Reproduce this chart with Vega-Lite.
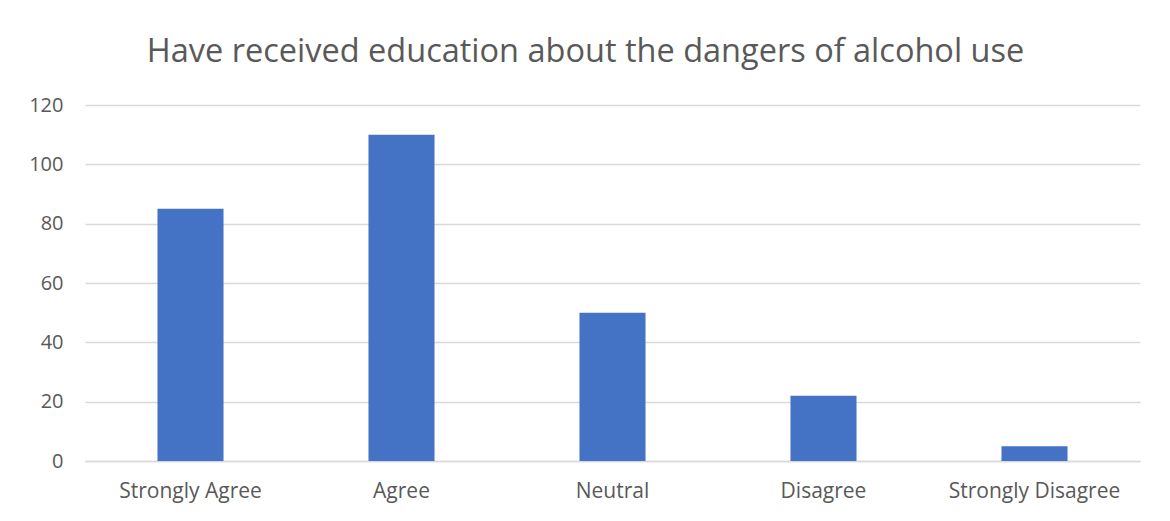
{
  "$schema": "https://vega.github.io/schema/vega-lite/v6.json",
  "width": 1055,
  "height": 356,
  "autosize": {"type": "none"},
  "padding": {"left": 85, "top": 105, "right": 30, "bottom": 60},
  "background": "white",
  "title": {
    "text": "Have received education about the dangers of alcohol use",
    "font": "Open Sans",
    "fontSize": 32.5,
    "fontWeight": "normal",
    "color": "#595959",
    "anchor": "middle",
    "dx": -27,
    "offset": -6,
    "baseline": "bottom"
  },
  "data": {
    "values": [
      {"response": "Strongly Agree", "count": 85},
      {"response": "Agree", "count": 110},
      {"response": "Neutral", "count": 50},
      {"response": "Disagree", "count": 22},
      {"response": "Strongly Disagree", "count": 5}
    ]
  },
  "mark": {"type": "bar", "color": "#4472C4"},
  "encoding": {
    "x": {
      "field": "response",
      "type": "nominal",
      "sort": null,
      "scale": {"paddingInner": 0.687, "paddingOuter": 0.3435},
      "axis": {
        "title": null,
        "labelAngle": 0,
        "labelFont": "Open Sans",
        "labelFontSize": 21,
        "labelColor": "#595959",
        "labelPadding": 19,
        "ticks": false,
        "domainColor": "#D9D9D9",
        "domainWidth": 1.5
      }
    },
    "y": {
      "field": "count",
      "type": "quantitative",
      "scale": {"domain": [0, 120]},
      "axis": {
        "title": null,
        "values": [0, 20, 40, 60, 80, 100, 120],
        "labelFont": "Open Sans",
        "labelFontSize": 20,
        "labelColor": "#595959",
        "labelPadding": 22,
        "ticks": false,
        "domain": false,
        "gridColor": "#D9D9D9",
        "gridWidth": 1.5
      }
    }
  },
  "config": {"view": {"stroke": null}}
}
